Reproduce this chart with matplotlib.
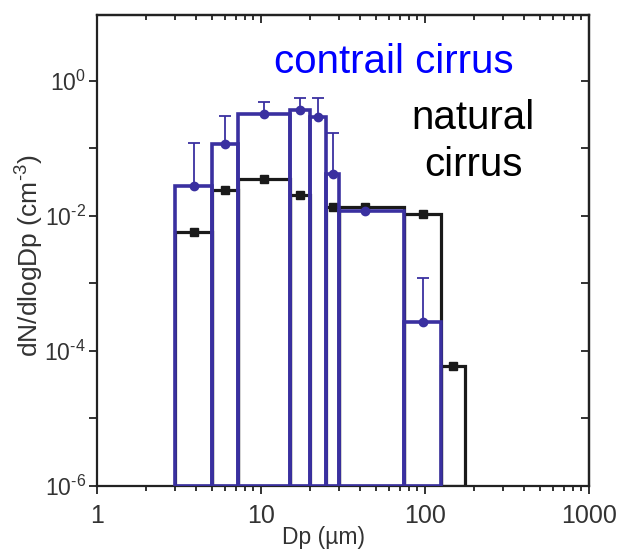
import matplotlib
matplotlib.use("Agg")
import matplotlib.pyplot as plt
from matplotlib.ticker import LogLocator, FuncFormatter, NullLocator, NullFormatter
import numpy as np

# Size bins (µm) and dN/dlogDp values (cm^-3)
contrail_lo = [3, 5, 7.25, 15, 20, 25, 30, 75]
contrail_hi = [5, 7.25, 15, 20, 25, 30, 75, 125]
contrail_mid = [3.9, 6.0, 10.4, 17.3, 22.4, 27.4, 43, 97]
contrail_val = [0.028, 0.114, 0.32, 0.37, 0.29, 0.041, 0.0116, 2.7e-4]
contrail_top = [0.118, 0.30, 0.48, 0.56, 0.56, 0.17, 0.0116, 1.2e-3]

natural_lo = [3, 5, 7.25, 15, 25, 30, 75, 125]
natural_hi = [5, 7.25, 15, 20, 30, 75, 125, 175]
natural_mid = [3.9, 6.0, 10.4, 17.3, 27.4, 43, 97, 148]
natural_val = [0.0058, 0.0238, 0.0356, 0.020, 0.0135, 0.0135, 0.0107, 6.0e-5]

x_ticks = [1, 10, 100, 1000]

YMIN = 1e-6
BLUE = "#3a30a0"
BLACK = "#1a1a1a"
AXCOL = "#222222"
TXT = "#333333"
HYPHEN = "\u2010"

plt.rcParams["font.family"] = ["Liberation Sans", "DejaVu Sans"]
plt.rcParams["mathtext.fontset"] = "custom"
plt.rcParams["mathtext.rm"] = "Liberation Sans"
plt.rcParams["mathtext.it"] = "Liberation Sans"
plt.rcParams["mathtext.bf"] = "Liberation Sans"

fig = plt.figure(figsize=(6.18, 5.54), dpi=100)
ax = fig.add_axes([0.157, 0.1227, 0.796, 0.850])
ax.set_xscale("log")
ax.set_yscale("log")


def draw_bins(lo, hi, val, color, lw, z):
    lo = np.array(lo)
    hi = np.array(hi)
    val = np.array(val)
    ax.bar(lo, val - YMIN, width=hi - lo, bottom=YMIN, align="edge",
           fill=False, edgecolor=color, linewidth=lw, zorder=z)


# natural cirrus underneath, contrail cirrus on top
draw_bins(natural_lo, natural_hi, natural_val, BLACK, 2.3, 2)
ax.plot(natural_mid, natural_val, "s", color=BLACK, markersize=6, zorder=2.5)

draw_bins(contrail_lo, contrail_hi, contrail_val, BLUE, 2.6, 3)
c_val = np.array(contrail_val)
c_err = np.array(contrail_top) - c_val
ax.errorbar(contrail_mid, c_val, yerr=[np.zeros_like(c_err), c_err],
            fmt="o", color=BLUE, markersize=6, elinewidth=1.3,
            capsize=4, capthick=1.3, zorder=3.5)

ax.set_xlim(1, 1000)
ax.set_ylim(YMIN, 10 ** 0.97)

x_minor = LogLocator(base=10, subs=np.arange(2, 10), numticks=20)
ax.set_xticks(x_ticks)
ax.xaxis.set_minor_locator(x_minor)
ax.yaxis.set_major_locator(LogLocator(base=10, numticks=20))
ax.yaxis.set_minor_locator(NullLocator())


def xfmt(v, pos):
    return f"{v:g}"


def yfmt(v, pos):
    e = int(round(np.log10(v)))
    if e % 2:
        return ""
    sign = HYPHEN if e < 0 else ""
    return r"$\mathregular{10^{%s%d}}$" % (sign, abs(e))


ax.xaxis.set_major_formatter(FuncFormatter(xfmt))
ax.xaxis.set_minor_formatter(NullFormatter())
ax.yaxis.set_major_formatter(FuncFormatter(yfmt))

ax.tick_params(which="both", direction="out", width=1.3, color=AXCOL,
               labelcolor=TXT)
ax.tick_params(which="major", length=6)
ax.tick_params(which="minor", length=3.5)
ax.tick_params(axis="x", labelsize=18, pad=7)
ax.tick_params(axis="y", labelsize=16.5, pad=2)

# inward ticks on the top and right frame
top = ax.secondary_xaxis("top")
top.set_xticks(x_ticks)
top.xaxis.set_minor_locator(x_minor)
top.tick_params(which="both", direction="in", width=1.3, color=AXCOL,
                labeltop=False)
top.tick_params(which="major", length=6)
top.tick_params(which="minor", length=3.5)

right = ax.secondary_yaxis("right")
right.yaxis.set_major_locator(LogLocator(base=10, numticks=20))
right.yaxis.set_minor_locator(NullLocator())
right.tick_params(which="both", direction="in", width=1.3, color=AXCOL,
                  length=6, labelright=False)

for a in (ax, top, right):
    for s in a.spines.values():
        s.set_linewidth(1.6)
        s.set_color(AXCOL)

ax.set_xlabel("Dp (µm)", fontsize=16.5, color=TXT)
ax.xaxis.set_label_coords(0.461, -0.11)
ax.xaxis.label.set_va("center")
ax.set_ylabel("dN/dlogDp (cm$^{" + HYPHEN + "3}$)", fontsize=19, color=TXT)
ax.yaxis.set_label_coords(-0.103, 0.49)

fig.text(0.6375, 0.888, "contrail cirrus", color="#0000ff", fontsize=29,
         ha="center", va="center")
fig.text(0.766, 0.787, "natural", color="black", fontsize=29,
         ha="center", va="center")
fig.text(0.766, 0.702, "cirrus", color="black", fontsize=29,
         ha="center", va="center")

fig.savefig("out.png", dpi=100)
